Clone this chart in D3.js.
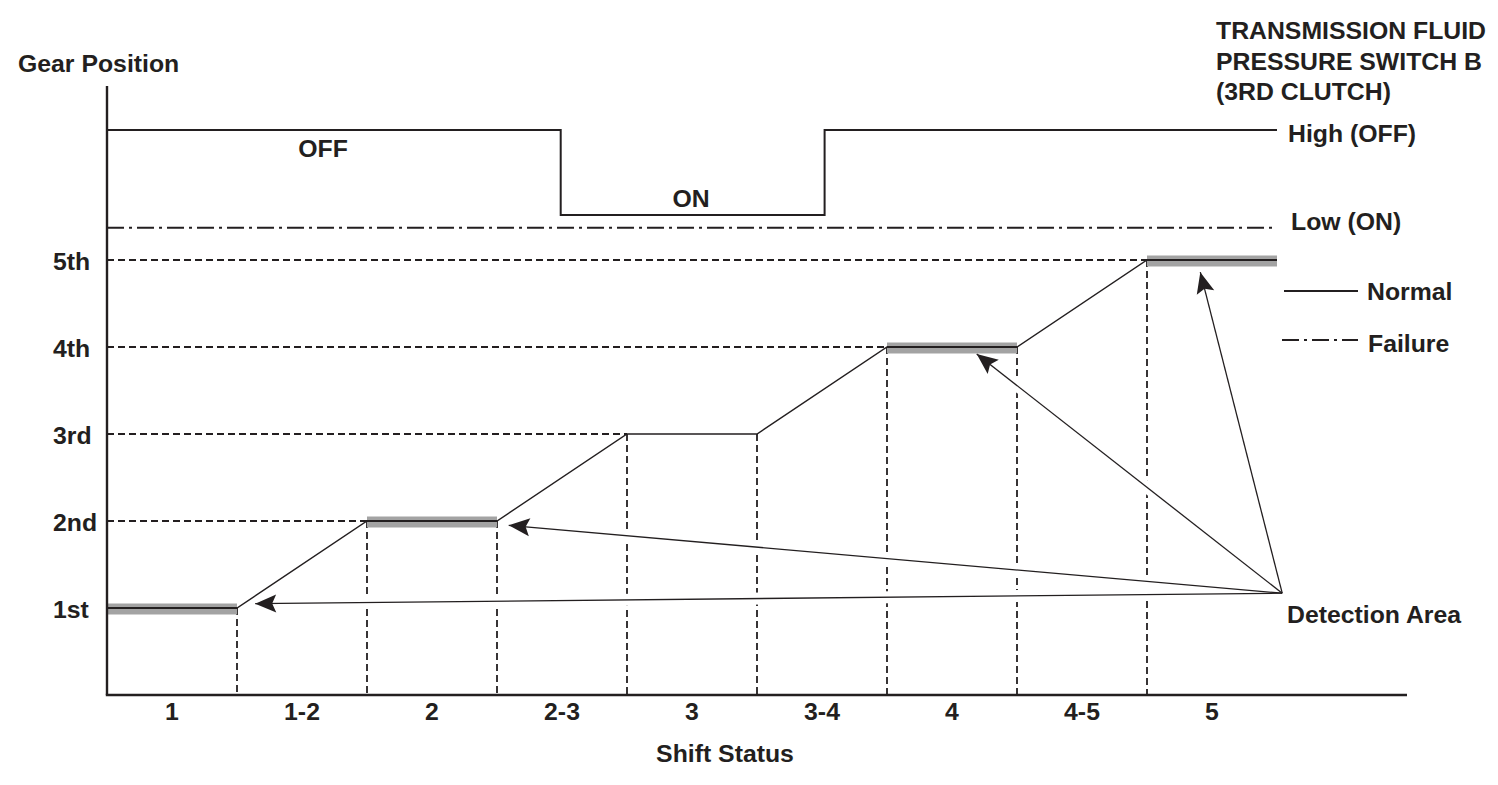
<!DOCTYPE html>
<html>
<head>
<meta charset="utf-8">
<script src="https://cdn.jsdelivr.net/npm/d3@7"></script>
<style>
  body { margin: 0; background: #fff; }
  text { font-family: "Liberation Sans", Arial, sans-serif; font-weight: bold; fill: #231f20; }
</style>
</head>
<body>
<div id="chart"></div>
<script>
// shift steps along the bottom
var shiftStatus = ["1", "1-2", "2", "2-3", "3", "3-4", "4", "4-5", "5"];
var gearLabels = ["1st", "2nd", "3rd", "4th", "5th"];
// gear reached at each step boundary (0..9)
var gearAtBoundary = [1, 1, 2, 2, 3, 3, 4, 4, 5, 5];
// steps that hold a detection area (gray band) and their gear
var detectSteps = [0, 2, 6, 8];
var detectGears = [1, 2, 4, 5];
// pressure switch B, normal signal: [step, level] with 1 = High (OFF), 0 = Low (ON)
var switchNormal = [[0, 1], [3.49, 1], [3.49, 0], [5.52, 0], [5.52, 1], [9, 1]];
var switchFailure = -0.15;
// arrows from the "Detection Area" label to the gray bands
var arrowFrom = [9.04, 1.17];
var arrowTo = [[1.14, 1.05], [3.09, 1.95], [6.69, 3.92], [8.41, 4.86]];

var width = 1498, height = 785;
var fs = "24.8px";

var svg = d3.select("#chart")
  .append("svg")
    .attr("width", width)
    .attr("height", height);

// step scale and gear scale
var x = d3.scaleLinear().domain([0, 9]).range([107, 1277]);
var y = d3.scaleLinear().domain([0, 5]).range([695, 260]);
// switch level scale
var sy = d3.scaleLinear().domain([0, 1]).range([215, 130]);

var defs = svg.append("defs");
defs.append("marker")
    .attr("id", "head")
    .attr("viewBox", "-22 -10 24 20")
    .attr("refX", 0)
    .attr("refY", 0)
    .attr("markerUnits", "userSpaceOnUse")
    .attr("markerWidth", 24)
    .attr("markerHeight", 20)
    .attr("orient", "auto")
  .append("path")
    .attr("d", "M0,0 L-21,-9 L-17,0 L-21,9 Z")
    .attr("fill", "#231f20");

var dash = "7,4";
var dashDot = "17,5,3,5";

// horizontal dashed lines from the axis to where each gear is reached
var hLines = gearLabels.map(function(g, i) {
    return { gear: i + 1, to: gearAtBoundary.indexOf(i + 1) };
}).filter(function(d) { return d.to > 0; });

svg.selectAll(".hdash")
  .data(hLines)
  .enter()
  .append("line")
    .attr("x1", x(0))
    .attr("x2", function(d) { return x(d.to); })
    .attr("y1", function(d) { return y(d.gear); })
    .attr("y2", function(d) { return y(d.gear); })
    .attr("stroke", "#231f20")
    .attr("stroke-width", 1.8)
    .attr("stroke-dasharray", dash);

// vertical dashed lines at every step boundary
var vLines = d3.range(1, 9);
svg.selectAll(".vdash")
  .data(vLines)
  .enter()
  .append("line")
    .attr("x1", function(d) { return x(d); })
    .attr("x2", function(d) { return x(d); })
    .attr("y1", function(d) { return y(gearAtBoundary[d]); })
    .attr("y2", y(0))
    .attr("stroke", "#231f20")
    .attr("stroke-width", 1.8)
    .attr("stroke-dasharray", dash);

// gray detection bands
svg.selectAll(".band")
  .data(detectSteps)
  .enter()
  .append("line")
    .attr("x1", function(d) { return x(d); })
    .attr("x2", function(d) { return x(d + 1); })
    .attr("y1", function(d, i) { return y(detectGears[i]) + 1; })
    .attr("y2", function(d, i) { return y(detectGears[i]) + 1; })
    .attr("stroke", "#a3a3a3")
    .attr("stroke-width", 11);

// gear position line
var gearLine = d3.line()
    .x(function(d, i) { return x(i); })
    .y(function(d) { return y(d); });

svg.append("path")
    .datum(gearAtBoundary)
    .attr("d", gearLine)
    .attr("fill", "none")
    .attr("stroke", "#231f20")
    .attr("stroke-width", 1.4);

// thicker black line inside the gray bands
svg.selectAll(".bandline")
  .data(detectSteps)
  .enter()
  .append("line")
    .attr("x1", function(d) { return x(d); })
    .attr("x2", function(d) { return x(d + 1); })
    .attr("y1", function(d, i) { return y(detectGears[i]); })
    .attr("y2", function(d, i) { return y(detectGears[i]); })
    .attr("stroke", "#231f20")
    .attr("stroke-width", 2.2);

// switch signal (normal)
var swLine = d3.line()
    .x(function(d) { return x(d[0]); })
    .y(function(d) { return sy(d[1]); });

svg.append("path")
    .datum(switchNormal)
    .attr("d", swLine)
    .attr("fill", "none")
    .attr("stroke", "#231f20")
    .attr("stroke-width", 2);

// switch signal (failure)
svg.append("line")
    .attr("x1", x(0))
    .attr("x2", x(9))
    .attr("y1", sy(switchFailure))
    .attr("y2", sy(switchFailure))
    .attr("stroke", "#231f20")
    .attr("stroke-width", 1.8)
    .attr("stroke-dasharray", dashDot);

// arrows, with a white halo so the dashed lines break under them
function shorten(a, b, len) {
    var dx = b[0] - a[0], dy = b[1] - a[1];
    var L = Math.sqrt(dx * dx + dy * dy);
    return [b[0] - dx / L * len, b[1] - dy / L * len];
}
var arrows = arrowTo.map(function(t) {
    var a = [x(arrowFrom[0]), y(arrowFrom[1])];
    var b = [x(t[0]), y(t[1])];
    return { a: a, b: b, c: shorten(a, b, 22) };
});

svg.selectAll(".halo")
  .data(arrows)
  .enter()
  .append("line")
    .attr("x1", function(d) { return d.a[0]; })
    .attr("y1", function(d) { return d.a[1]; })
    .attr("x2", function(d) { return d.c[0]; })
    .attr("y2", function(d) { return d.c[1]; })
    .attr("stroke", "#fff")
    .attr("stroke-width", 12);

svg.selectAll(".arrow")
  .data(arrows)
  .enter()
  .append("line")
    .attr("x1", function(d) { return d.a[0]; })
    .attr("y1", function(d) { return d.a[1]; })
    .attr("x2", function(d) { return d.b[0]; })
    .attr("y2", function(d) { return d.b[1]; })
    .attr("stroke", "#231f20")
    .attr("stroke-width", 1.3)
    .attr("marker-end", "url(#head)");

// axes
svg.append("line")
    .attr("x1", x(0)).attr("x2", x(0))
    .attr("y1", y(7)).attr("y2", y(0))
    .attr("stroke", "#231f20")
    .attr("stroke-width", 2.4);
svg.append("line")
    .attr("x1", x(0) - 1.2).attr("x2", x(10))
    .attr("y1", y(0)).attr("y2", y(0))
    .attr("stroke", "#231f20")
    .attr("stroke-width", 2.4);

// shift status labels
svg.selectAll(".xlab")
  .data(shiftStatus)
  .enter()
  .append("text")
    .attr("x", function(d, i) { return x(i + 0.5); })
    .attr("y", y(0) + 25)
    .attr("text-anchor", "middle")
    .attr("font-size", fs)
    .text(function(d) { return d; });

// gear labels
svg.selectAll(".ylab")
  .data(gearLabels)
  .enter()
  .append("text")
    .attr("x", 53)
    .attr("y", function(d, i) { return y(i + 1) + 10; })
    .attr("font-size", fs)
    .text(function(d) { return d; });

function label(t, px, py, anchor) {
    svg.append("text")
        .attr("x", px)
        .attr("y", py)
        .attr("text-anchor", anchor || "start")
        .attr("font-size", fs)
        .text(t);
}

label("Gear Position", 18, 72);
label("Shift Status", 725, 762, "middle");
label("OFF", 323, 157, "middle");
label("ON", 691, 207, "middle");
label("TRANSMISSION FLUID", 1216, 39);
label("PRESSURE SWITCH B", 1216, 70);
label("(3RD CLUTCH)", 1216, 100);
label("High (OFF)", 1288, 142);
label("Low (ON)", 1291, 230);
label("Normal", 1367, 300);
label("Failure", 1368, 352);
label("Detection Area", 1287, 623);

// legend lines
svg.append("line")
    .attr("x1", 1284).attr("x2", 1358)
    .attr("y1", 291).attr("y2", 291)
    .attr("stroke", "#231f20")
    .attr("stroke-width", 2);
svg.append("line")
    .attr("x1", 1282).attr("x2", 1358)
    .attr("y1", 340).attr("y2", 340)
    .attr("stroke", "#231f20")
    .attr("stroke-width", 1.8)
    .attr("stroke-dasharray", dashDot);
</script>
</body>
</html>
